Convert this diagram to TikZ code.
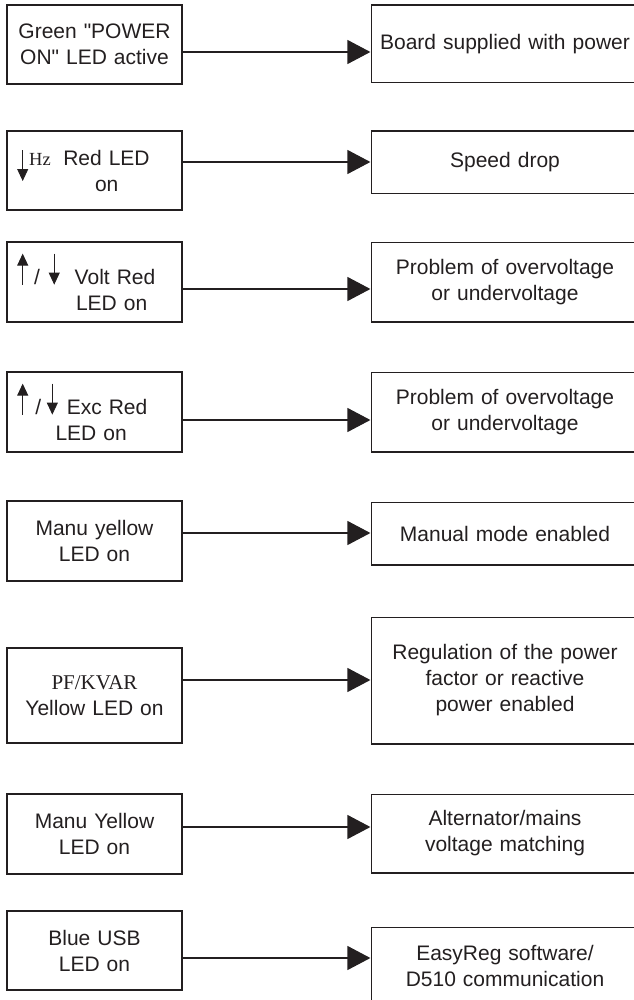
\documentclass[tikz,border=0pt]{standalone}
\usepackage{fontspec}
\setmainfont{Liberation Sans}
\newfontfamily\serifled{Liberation Serif}
\usetikzlibrary{arrows.meta}
\definecolor{ink}{RGB}{35,31,32}

% small up / down arrows used inside the LED labels
\newcommand{\ledup}{\tikz[baseline=0pt]\draw[-{Triangle[length=12pt,width=11pt]}, line width=0.9pt, ink] (0pt,0pt) -- (0pt,31pt);}
\newcommand{\leddown}[1][0pt]{\tikz[baseline=#1]\draw[-{Triangle[length=12pt,width=11pt]}, line width=0.9pt, ink] (0pt,31pt) -- (0pt,0pt);}

\begin{document}
\begin{tikzpicture}[
  x=1pt, y=-1pt,
  font=\fontsize{21}{26}\selectfont,
  lbox/.style = {rectangle, draw=ink, text=ink, line width=1.2pt, align=center,
                 minimum width=175pt, text width=160pt, inner xsep=7.5pt,
                 minimum height=80pt},
  % right boxes run off the page: no right side drawn
  rbox/.style = {rectangle, text=ink, line width=1.2pt, align=center,
                 minimum width=268pt, text width=250pt, inner xsep=9pt,
                 minimum height=80pt,
                 path picture={\draw[ink, line width=2.4pt]
                   (path picture bounding box.north east) -- (path picture bounding box.north west)
                   -- (path picture bounding box.south west) -- (path picture bounding box.south east);}},
  flow/.style = {-{Triangle[length=23pt,width=24pt]}, draw=ink, fill=ink, line width=1.2pt}
]
\useasboundingbox (0,0) rectangle (633,1000);

% --- LED states (left column) ------------------------------------------------
\node[lbox, minimum height=79pt] (L1) at (94.5,44.5) {Green \textquotedbl POWER\\ON\textquotedbl{} LED active};
\node[lbox, minimum height=79pt, align=left] (L2) at (94.5,170.5)
     {\hspace*{2.7pt}\smash{\leddown[16pt]}\hspace{1pt}{\serifled\fontsize{18.5}{22}\selectfont Hz}\hspace{12.5pt}Red LED\\\hspace*{80.5pt}on};
\node[lbox, align=left] (L3) at (94.5,282)
     {\hspace*{2.7pt}\ledup\hspace{5.8pt}/\hspace{8.9pt}\leddown\hspace{15pt}Volt Red\\\hspace*{61.5pt}LED on};
\node[lbox, align=left] (L4) at (94.5,412)
     {\hspace*{2.7pt}\ledup\hspace{7.2pt}/\hspace{5.6pt}\leddown\hspace{9pt}Exc Red\\\hspace*{41pt}LED on};
\node[lbox] (L5) at (94.5,541) {Manu yellow\\LED on};
\node[lbox, minimum height=95pt] (L6) at (94.5,695.5)
     {{\serifled PF/KVAR}\\Yellow LED on};
\node[lbox] (L7) at (94.5,834) {Manu Yellow\\LED on};
\node[lbox, minimum height=79pt] (L8) at (94.5,950.5) {Blue USB\\LED on};

% --- Meaning (right column) --------------------------------------------------
\node[rbox, minimum height=78pt] (R1) at (505,44) {Board supplied with power};
\node[rbox, minimum height=63pt] (R2) at (505,162.5) {Speed drop};
\node[rbox] (R3) at (505,282) {Problem of overvoltage\\or undervoltage};
\node[rbox] (R4) at (505,412) {Problem of overvoltage\\or undervoltage};
\node[rbox, minimum height=63pt] (R5) at (505,533.5) {Manual mode enabled};
\node[rbox, minimum height=127pt] (R6) at (505,680.5)
     {Regulation of the power\\factor or reactive\\power enabled};
\node[rbox, minimum height=79pt] (R7) at (505,833.5) {Alternator/mains\\voltage matching};
\node[rbox, minimum height=78pt] (R8) at (505,966) {EasyReg software/\\D510 communication};

% --- Arrow levels ------------------------------------------------------------
\coordinate (lv1) at (280,52);
\coordinate (lv2) at (280,162);
\coordinate (lv3) at (280,289);
\coordinate (lv4) at (280,420);
\coordinate (lv5) at (280,533);
\coordinate (lv6) at (280,680);
\coordinate (lv7) at (280,827);
\coordinate (lv8) at (280,958);

% --- Arrows ------------------------------------------------------------------
\draw[flow] (L1.east |- lv1) -- (R1.west |- lv1);
\draw[flow] (L2.east |- lv2) -- (R2.west |- lv2);
\draw[flow] (L3.east |- lv3) -- (R3.west |- lv3);
\draw[flow] (L4.east |- lv4) -- (R4.west |- lv4);
\draw[flow] (L5.east |- lv5) -- (R5.west |- lv5);
\draw[flow] (L6.east |- lv6) -- (R6.west |- lv6);
\draw[flow] (L7.east |- lv7) -- (R7.west |- lv7);
\draw[flow] (L8.east |- lv8) -- (R8.west |- lv8);

\end{tikzpicture}
\end{document}
